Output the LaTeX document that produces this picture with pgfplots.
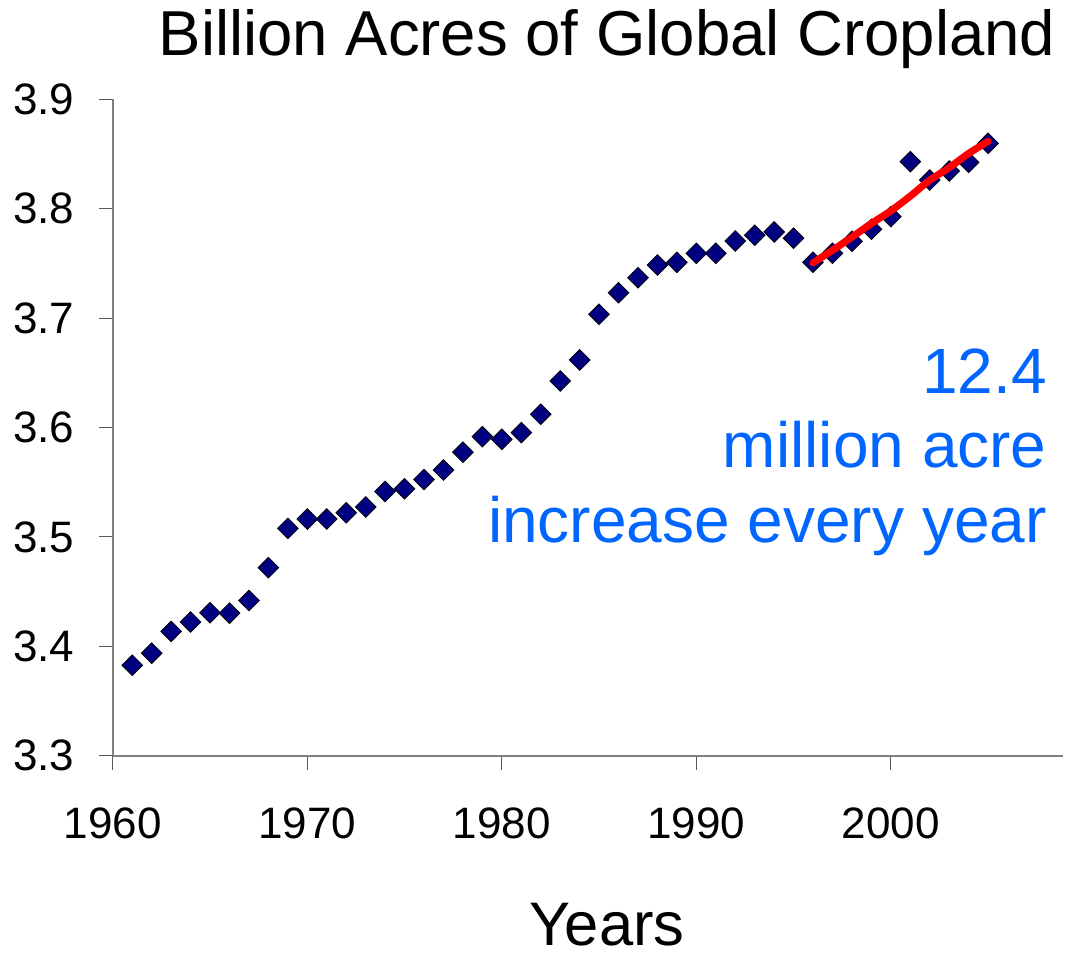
\documentclass[border=0pt]{standalone}
\usepackage{fontspec}
\setmainfont{Liberation Sans}
\usepackage{pgfplots}
\pgfplotsset{compat=1.18}
\definecolor{navy}{HTML}{000080}
\definecolor{annblue}{HTML}{0066FF}
\definecolor{axgray}{HTML}{808080}

\pgfplotstableread{
year value
1961 3.3827
1962 3.3937
1963 3.4136
1964 3.4222
1965 3.4307
1966 3.4303
1967 3.4418
1968 3.4719
1969 3.5077
1970 3.5163
1971 3.5163
1972 3.5220
1973 3.5273
1974 3.5415
1975 3.5440
1976 3.5525
1977 3.5611
1978 3.5774
1979 3.5916
1980 3.5892
1981 3.5953
1982 3.6121
1983 3.6425
1984 3.6617
1985 3.7035
1986 3.7232
1987 3.7369
1988 3.7485
1989 3.7510
1990 3.7592
1991 3.7592
1992 3.7705
1993 3.7757
1994 3.7787
1995 3.7730
1996 3.7510
1997 3.7592
1998 3.7702
1999 3.7812
2000 3.7927
2001 3.8430
2002 3.8262
2003 3.8345
2004 3.8424
2005 3.8598
}\cropland

\pgfplotstableread{
year value
1996 3.7505
1997 3.7620
1998 3.7740
1999 3.7865
2000 3.7980
2001 3.8115
2002 3.8260
2003 3.8375
2004 3.8505
2005 3.8615
}\trend

\pgfplotsset{common/.style={
  at={(0pt,0pt)}, anchor=south west,
  scale only axis, width=475.1pt, height=328.2pt,
  xmin=1960, xmax=2008.85, ymin=3.3, ymax=3.9,
  clip=false}}

\begin{document}
\begin{tikzpicture}
\useasboundingbox (-56.4pt,-100.15pt) rectangle (479.6pt,377.85pt);
\begin{axis}[
  common,
  axis lines*=left,
  axis line style={draw=axgray, line width=1pt},
  tick align=outside, major tick length=7pt,
  tick style={draw=axgray!70!black, line width=0.5pt},
  xtick={1960,1970,1980,1990,2000},
  ytick={3.3,3.4,3.5,3.6,3.7,3.8,3.9},
  xticklabel style={/pgf/number format/1000 sep={}, inner sep=0pt, yshift=-19pt},
  yticklabel style={/pgf/number format/fixed, /pgf/number format/fixed zerofill, /pgf/number format/precision=1, inner sep=0pt, xshift=-12pt},
  /pgf/number format/assume math mode=true,
  tick label style={font=\fontsize{22}{26}\selectfont, text=black},
]
\addplot[only marks, mark=square*, mark size=3.65pt,
  mark options={rotate=45, fill=navy, draw=none}] table[x=year, y=value] {\cropland};

\node[anchor=base, inner sep=0pt, yshift=21.65pt, font=\fontsize{31.75}{38}\selectfont] at (rel axis cs:0.5201,1) {Billion Acres of Global Cropland};
\node[anchor=base, inner sep=0pt, yshift=-95pt, font=\fontsize{30.75}{36}\selectfont] at (rel axis cs:0.5201,0) {Years};

\node[anchor=base east, inner sep=0pt, text=annblue, font=\fontsize{32}{38}\selectfont] at (axis cs:2008.03,3.6315) {12.4};
\node[anchor=base east, inner sep=0pt, text=annblue, font=\fontsize{32}{38}\selectfont] at (axis cs:2008.03,3.5630) {million acre};
\node[anchor=base east, inner sep=0pt, text=annblue, font=\fontsize{32}{38}\selectfont] at (axis cs:2008.03,3.4945) {increase every year};
\end{axis}
\begin{axis}[common, hide axis]
\addplot[draw=red, line width=3.6pt, smooth, line cap=round, line join=round, no marks] table[x=year, y=value] {\trend};
\end{axis}
\end{tikzpicture}
\end{document}
